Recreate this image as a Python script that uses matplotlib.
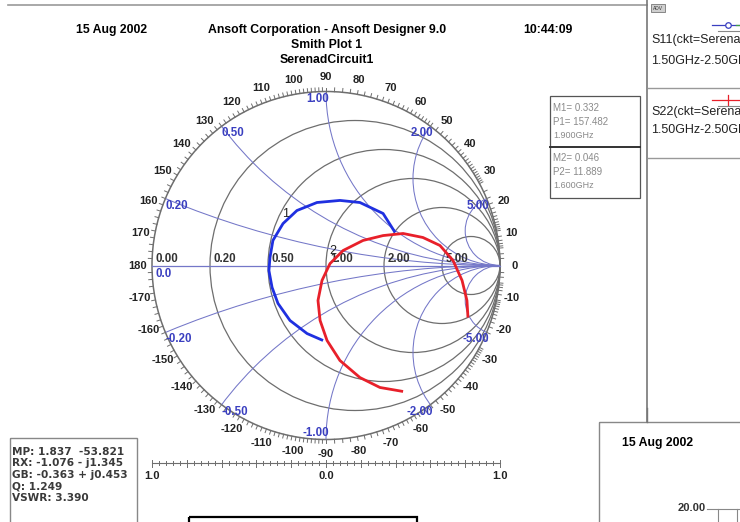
import numpy as np
import matplotlib
matplotlib.use("Agg")
import matplotlib.pyplot as plt
from matplotlib.patches import Circle, Rectangle

plt.rcParams['font.family'] = ['Liberation Sans', 'DejaVu Sans']

# ---- data -------------------------------------------------------------
# S11 and S22 of SerenadCircuit1, 1.50 GHz - 2.50 GHz (reflection coefficient)
s11_re = [0.397, 0.328, 0.195, 0.080, -0.052, -0.167, -0.247, -0.305,
          -0.322, -0.328, -0.310, -0.276, -0.207, -0.109, -0.017]
s11_im = [0.190, 0.299, 0.362, 0.374, 0.362, 0.316, 0.241, 0.144,
          0.046, -0.029, -0.126, -0.218, -0.316, -0.391, -0.431]
s22_re = [0.816, 0.810, 0.782, 0.730, 0.655, 0.557, 0.443, 0.328, 0.213,
          0.098, 0.023, -0.023, -0.046, -0.034, 0.006, 0.080, 0.195, 0.310, 0.443]
s22_im = [-0.299, -0.201, -0.086, 0.029, 0.115, 0.161, 0.184, 0.172, 0.144,
          0.086, 0.011, -0.086, -0.201, -0.316, -0.431, -0.546, -0.644, -0.701, -0.724]

# markers: magnitude, phase (deg), frequency
marker_names = ["1", "2"]
marker_mag = [0.332, 0.046]
marker_phase = [157.482, 11.889]
marker_freq = ["1.900GHz", "1.600GHz"]

resistance_values = [0.2, 0.5, 1.0, 2.0, 5.0]
reactance_values = [0.2, 0.5, 1.0, 2.0, 5.0]
angle_labels = list(range(0, 190, 10)) + list(range(-10, -180, -10))

info_lines = ["MP: 1.837  -53.821", "RX: -1.076 - j1.345",
              "GB: -0.363 + j0.453", "Q: 1.249", "VSWR: 3.390"]

# ---- figure -----------------------------------------------------------
W, H = 740, 522
CX, CY, R = 326.0, 265.5, 174.0
fig = plt.figure(figsize=(W / 100, H / 100), dpi=100)

canvas = fig.add_axes([0, 0, 1, 1])
canvas.set_xlim(0, W)
canvas.set_ylim(H, 0)
canvas.axis('off')

smith = fig.add_axes([0, 0, 1, 1])
smith.set_xlim((0 - CX) / R, (W - CX) / R)
smith.set_ylim((CY - H) / R, CY / R)
smith.axis('off')
smith.patch.set_alpha(0)

GREY = '#6e6e6e'
XBLUE = '#7477c8'
LBLUE = '#3a3fc0'

# resistance circles
unit = Circle((0, 0), 1.0, fill=False, ec=GREY, lw=1.1, zorder=2)
smith.add_patch(unit)
for r in resistance_values:
    smith.add_patch(Circle((r / (1 + r), 0), 1 / (1 + r), fill=False,
                           ec=GREY, lw=0.9, zorder=2))

# reactance arcs clipped to the unit circle
clip = Circle((0, 0), 1.0, transform=smith.transData)
for x in reactance_values:
    for s in (1, -1):
        arc = Circle((1, s / x), 1 / x, fill=False, ec=XBLUE, lw=0.75, zorder=2)
        smith.add_patch(arc)
        arc.set_clip_path(clip)
smith.plot([-1, 1], [0, 0], color=XBLUE, lw=0.9, zorder=2)

# ticks on the rim, at reactance steps
tick_x = np.concatenate([np.arange(0.02, 1.0, 0.02), np.arange(1.0, 2.0, 0.05),
                         np.arange(2.0, 4.0, 0.1), np.arange(4.0, 10.0, 0.5),
                         np.arange(10, 20, 2.0), [20, 30, 50]])
for x in tick_x:
    for s in (1, -1):
        th = np.pi - 2 * np.arctan(x)
        th *= s
        c, sn = np.cos(th), np.sin(th)
        smith.plot([c, c * 1.022], [sn, sn * 1.022], color=GREY, lw=0.7, zorder=2)

# angle labels
for a in angle_labels:
    t = np.deg2rad(a)
    smith.text(1.085 * np.cos(t), 1.085 * np.sin(t), str(a), ha='center',
               va='center', fontsize=8, fontweight='bold', color='#222222')

# resistance labels
smith.text(-1 + 4 / R, 7 / R, "0.00", ha='left', va='center', fontsize=8.3,
           fontweight='bold', color='#333333')
smith.text(-1 + 4 / R, -8 / R, "0.0", ha='left', va='center', fontsize=8.3,
           fontweight='bold', color=LBLUE)
for r in resistance_values:
    g = (r - 1) / (r + 1)
    smith.text(g + 4 / R, 7 / R, f"{r:.2f}", ha='left', va='center', fontsize=8.3,
               fontweight='bold', color='#333333')

# reactance labels
for x in reactance_values:
    for s in (1, -1):
        th = s * (np.pi - 2 * np.arctan(x))
        px, py = np.cos(th), np.sin(th)
        dy = -7 / R if not (x == 1.0 and s == -1) else 7 / R
        ha = 'left' if px < -0.05 else 'right'
        dx = 0 if ha == 'left' else 3 / R
        smith.text(px + dx, py + dy, f"{s * x:.2f}", ha=ha, va='center',
                   fontsize=8.3, fontweight='bold', color=LBLUE)

# traces
smith.plot(s11_re, s11_im, color='#1f30e0', lw=2.0, zorder=5,
           solid_capstyle='butt', solid_joinstyle='round')
smith.plot(s22_re, s22_im, color='#e8202a', lw=2.0, zorder=5,
           solid_capstyle='butt', solid_joinstyle='round')

# marker labels
offsets = [(9, 21), (-1, 9)]
for name, m, p, off in zip(marker_names, marker_mag, marker_phase, offsets):
    mx = m * np.cos(np.deg2rad(p))
    my = m * np.sin(np.deg2rad(p))
    smith.annotate(name, (mx, my), xytext=off, textcoords='offset points',
                   ha='center', va='center', fontsize=9, color='#222222', zorder=6)

# |Gamma| scale bar
ybar = (CY - 463) / R
smith.plot([-1, 1], [ybar, ybar], color=GREY, lw=0.8)
for v in np.round(np.arange(-1, 1.0001, 0.04), 4):
    major = abs(round(v / 0.2) * 0.2 - v) < 1e-6
    h = (3.5 if major else 2) / R
    smith.plot([v, v], [ybar - h, ybar + h], color=GREY, lw=0.7)
for v, lab in [(-1, "1.0"), (0, "0.0"), (1, "1.0")]:
    smith.text(v, ybar - 13 / R, lab, ha='center', va='center', fontsize=8,
               fontweight='bold', color='#222222')

# ---- header -----------------------------------------------------------
canvas.plot([8, 647], [5, 5], color='#9a9a9a', lw=1.2)
canvas.text(112, 30, "15 Aug 2002", ha='center', va='center', fontsize=8.8,
            fontweight='bold')
canvas.text(327, 30, "Ansoft Corporation - Ansoft Designer 9.0", ha='center',
            va='center', fontsize=8.8, fontweight='bold')
canvas.text(327, 45, "Smith Plot 1", ha='center', va='center', fontsize=8.8,
            fontweight='bold')
canvas.text(327, 60, "SerenadCircuit1", ha='center', va='center', fontsize=8.8,
            fontweight='bold')
canvas.text(548, 30, "10:44:09", ha='center', va='center', fontsize=8.8,
            fontweight='bold')

# marker readout boxes
canvas.add_patch(Rectangle((550, 96), 90, 102, fill=False, ec='#555555', lw=0.9))
canvas.plot([550, 640], [147, 147], color='#333333', lw=1.4)
for i, (name, m, p, f) in enumerate(zip(marker_names, marker_mag, marker_phase,
                                        marker_freq)):
    y0 = 108 + i * 50
    canvas.text(553, y0, f"M{name}= {m:.3f}", fontsize=7, color='#8a8a8a',
                va='center')
    canvas.text(553, y0 + 14, f"P{name}= {p:.3f}", fontsize=7, color='#8a8a8a',
                va='center')
    canvas.text(553, y0 + 28, f, fontsize=6.5, color='#8a8a8a', va='center')

# legend panel
canvas.plot([647, 647], [0, 422], color='#777777', lw=1.2)
canvas.plot([648, 740], [88, 88], color='#999999', lw=1.0)
canvas.plot([648, 740], [158, 158], color='#999999', lw=1.0)
canvas.add_patch(Rectangle((651, 4), 14, 8, fc='#cfcfcf', ec='#777777', lw=0.6))
canvas.text(658, 8, "ADV", ha='center', va='center', fontsize=3.5, color='#333333')
canvas.plot([712, 740], [25, 25], color=LBLUE, lw=0.9)
canvas.plot([728], [25], marker='o', ms=4, mfc='white', mec=LBLUE, mew=0.9)
canvas.plot([718, 740], [31, 31], color='#888888', lw=0.8)
canvas.plot([736, 740], [25, 25], color='#40a040', lw=0.9)
canvas.text(651, 40, "S11(ckt=SerenadCircuit1)", fontsize=9, color='#222222',
            va='center')
canvas.text(651, 61, "1.50GHz-2.50GHz", fontsize=9, color='#222222', va='center')
canvas.plot([712, 740], [100, 100], color='#e8202a', lw=0.9)
canvas.plot([728, 728], [95, 105], color='#e8202a', lw=0.9)
canvas.plot([718, 740], [106, 106], color='#888888', lw=0.8)
canvas.text(651, 112, "S22(ckt=SerenadCircuit1)", fontsize=9, color='#222222',
            va='center')
canvas.text(651, 130, "1.50GHz-2.50GHz", fontsize=9, color='#222222', va='center')

# cursor readout box
canvas.add_patch(Rectangle((10, 438), 127, 90, fill=False, ec='#888888', lw=1.0))
for i, line in enumerate(info_lines):
    canvas.text(12, 452 + i * 11.5, line, fontsize=7.6, fontweight='bold',
                family='DejaVu Sans', color='#3a3a3a', va='center')

# empty box below the scale
canvas.add_patch(Rectangle((189, 517), 228, 12, fill=False, ec='black', lw=1.6))

# inset plot corner
canvas.add_patch(Rectangle((599, 422), 150, 110, fill=False, ec='#888888', lw=1.0))
canvas.plot([647, 647], [408, 422], color='#777777', lw=1.0)
canvas.text(622, 443, "15 Aug 2002", ha='left', va='center', fontsize=8.8,
            fontweight='bold')
canvas.text(678, 508, "20.00", ha='left', va='center', fontsize=8,
            fontweight='bold', color='#333333')
canvas.plot([707, 740], [509, 509], color='#888888', lw=0.8)
canvas.plot([718, 718], [509, 522], color='#888888', lw=0.8)
canvas.plot([737, 737], [509, 522], color='#888888', lw=0.8)

fig.savefig("out.png", dpi=100)
